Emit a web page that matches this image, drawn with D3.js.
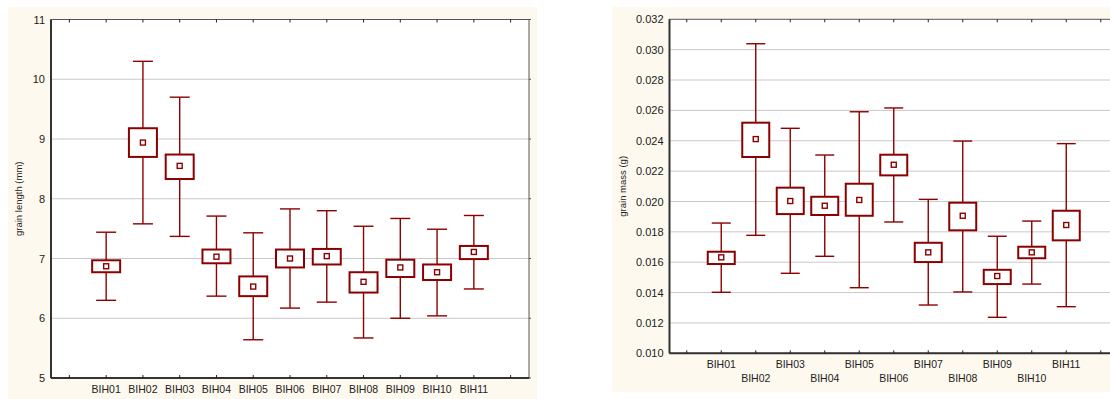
<!doctype html>
<html>
<head>
<meta charset='utf-8'>
<style>
  body { margin: 0; background: #fff; }
  svg { display: block; font-family: 'Liberation Sans', Arial, sans-serif; }
</style>
</head>
<body>
<svg id='chart' width='1110' height='399'></svg>
<script src='https://cdn.jsdelivr.net/npm/d3@7/dist/d3.min.js'></script>
<script>

const groups = ['BIH01','BIH02','BIH03','BIH04','BIH05','BIH06','BIH07','BIH08','BIH09','BIH10','BIH11'];

// grain length (mm): mean, box (lo/hi), whiskers (lo/hi)
const lengthMean   = [6.87, 8.94, 8.55, 7.03, 6.53, 7.00, 7.04, 6.61, 6.85, 6.77, 7.11];
const lengthBoxLo  = [6.77, 8.70, 8.33, 6.92, 6.37, 6.85, 6.90, 6.43, 6.69, 6.64, 6.99];
const lengthBoxHi  = [6.97, 9.18, 8.74, 7.15, 6.70, 7.15, 7.16, 6.77, 6.98, 6.90, 7.21];
const lengthWhLo   = [6.30, 7.58, 7.37, 6.37, 5.64, 6.17, 6.27, 5.67, 6.00, 6.04, 6.49];
const lengthWhHi   = [7.44, 10.30, 9.70, 7.71, 7.43, 7.83, 7.80, 7.54, 7.67, 7.49, 7.72];
const lengthTicks  = [5, 6, 7, 8, 9, 10, 11];

// grain mass (g)
const massMean  = [0.01632, 0.02411, 0.02003, 0.01972, 0.02010, 0.02242, 0.01665, 0.01906, 0.01509, 0.01665, 0.01845];
const massBoxLo = [0.01588, 0.02293, 0.01917, 0.01911, 0.01906, 0.02172, 0.01601, 0.01810, 0.01456, 0.01626, 0.01744];
const massBoxHi = [0.01669, 0.02519, 0.02091, 0.02031, 0.02117, 0.02308, 0.01728, 0.01992, 0.01550, 0.01702, 0.01939];
const massWhLo  = [0.01402, 0.01777, 0.01527, 0.01639, 0.01432, 0.01865, 0.01318, 0.01404, 0.01237, 0.01456, 0.01307];
const massWhHi  = [0.01858, 0.03039, 0.02482, 0.02306, 0.02591, 0.02616, 0.02014, 0.02398, 0.01771, 0.01871, 0.02381];
const massTicks = [0.010, 0.012, 0.014, 0.016, 0.018, 0.020, 0.022, 0.024, 0.026, 0.028, 0.030, 0.032];

const boxColor = '#8b0000';
const svg = d3.select('#chart');

function drawChart(opt) {
  // panel background
  svg.append('rect')
    .attr('x', opt.panel[0]).attr('y', opt.panel[1])
    .attr('width', opt.panel[2]).attr('height', opt.panel[3])
    .attr('fill', '#fdf9ee');

  const g = svg.append('g').attr('transform', `translate(${opt.l}, ${opt.t})`);
  const w = opt.w, h = opt.h;

  g.append('rect').attr('width', w).attr('height', h).attr('fill', '#fff');

  // empty slot at each end
  const slots = ['_a'].concat(groups, ['_b']);
  const x = d3.scaleBand().domain(slots).range([0, w]);
  const y = d3.scaleLinear().domain(opt.yDomain).range([h, 0]);
  const cx = d => x(d) + x.bandwidth() / 2;

  // gridlines
  g.selectAll('.grid')
    .data(opt.ticks.slice(1, -1))
    .enter().append('line')
    .attr('x1', 0).attr('x2', w)
    .attr('y1', d => y(d)).attr('y2', d => y(d))
    .attr('stroke', '#c9c9c9').attr('stroke-width', 1);

  // right side little ticks
  g.selectAll('.rtick')
    .data(opt.ticks)
    .enter().append('line')
    .attr('x1', w).attr('x2', w + 2)
    .attr('y1', d => y(d)).attr('y2', d => y(d))
    .attr('stroke', '#555');

  // frame
  g.append('rect').attr('width', w).attr('height', h)
    .attr('fill', 'none').attr('stroke', '#555').attr('stroke-width', 1);
  g.append('line').attr('x1', 0).attr('x2', 0).attr('y1', 0).attr('y2', h)
    .attr('stroke', '#333').attr('stroke-width', 2);
  g.append('line').attr('x1', 0).attr('x2', w).attr('y1', h).attr('y2', h)
    .attr('stroke', '#333').attr('stroke-width', 2);

  // top & bottom ticks (inward)
  g.selectAll('.tt')
    .data(slots)
    .enter().append('line')
    .attr('x1', d => cx(d)).attr('x2', d => cx(d))
    .attr('y1', 0).attr('y2', 3)
    .attr('stroke', '#222');
  g.selectAll('.bt')
    .data(slots)
    .enter().append('line')
    .attr('x1', d => cx(d)).attr('x2', d => cx(d))
    .attr('y1', h).attr('y2', h - 3)
    .attr('stroke', '#222');

  // y tick labels
  const yAxis = d3.axisLeft(y).tickValues(opt.ticks).tickSize(0).tickPadding(6)
    .tickFormat(opt.fmt);
  g.append('g').call(yAxis)
    .call(s => s.select('.domain').remove())
    .selectAll('text')
    .attr('font-size', '11px').attr('fill', '#222')
    .attr('font-family', "'Liberation Sans', Arial, sans-serif");

  // x tick labels
  g.selectAll('.xl')
    .data(groups)
    .enter().append('text')
    .attr('x', d => cx(d))
    .attr('y', (d, i) => h + (opt.stagger && i % 2 == 1 ? 29 : 15))
    .attr('text-anchor', 'middle')
    .attr('font-size', '10.5px').attr('fill', '#222')
    .text(d => d);

  // y label
  g.append('text')
    .attr('transform', `translate(${opt.labelX}, ${h / 2}) rotate(-90)`)
    .attr('text-anchor', 'middle')
    .attr('font-size', '9.5px').attr('fill', '#222')
    .text(opt.label);

  // boxes
  const nodes = g.selectAll('.node')
    .data(groups)
    .enter().append('g')
    .attr('class', 'node');

  nodes.append('line')
    .attr('x1', d => cx(d)).attr('x2', d => cx(d))
    .attr('y1', (d, i) => y(opt.whLo[i])).attr('y2', (d, i) => y(opt.whHi[i]))
    .attr('stroke', boxColor).attr('stroke-width', 1.4);
  ['whLo', 'whHi'].forEach(k => {
    nodes.append('line')
      .attr('x1', d => cx(d) - opt.cap / 2).attr('x2', d => cx(d) + opt.cap / 2)
      .attr('y1', (d, i) => y(opt[k][i])).attr('y2', (d, i) => y(opt[k][i]))
      .attr('stroke', boxColor).attr('stroke-width', 1.4);
  });
  nodes.append('rect')
    .attr('x', d => cx(d) - opt.boxW / 2)
    .attr('width', opt.boxW)
    .attr('y', (d, i) => y(opt.boxHi[i]))
    .attr('height', (d, i) => y(opt.boxLo[i]) - y(opt.boxHi[i]))
    .attr('fill', '#fff').attr('stroke', boxColor).attr('stroke-width', 2);
  nodes.append('rect')
    .attr('x', d => cx(d) - 2.5)
    .attr('y', (d, i) => y(opt.mean[i]) - 2.5)
    .attr('width', 5).attr('height', 5)
    .attr('fill', '#fff').attr('stroke', boxColor).attr('stroke-width', 1.4);
}

drawChart({
  panel: [8, 7, 529, 392],
  l: 51, t: 19.5, w: 478, h: 358.5,
  yDomain: [5, 11], ticks: lengthTicks, fmt: d3.format('d'),
  mean: lengthMean, boxLo: lengthBoxLo, boxHi: lengthBoxHi, whLo: lengthWhLo, whHi: lengthWhHi,
  boxW: 28, cap: 20, stagger: false,
  label: 'grain length (mm)', labelX: -29
});

drawChart({
  panel: [612, 7, 498, 385],
  l: 669.5, t: 19.3, w: 448.5, h: 334,
  yDomain: [0.010, 0.032], ticks: massTicks, fmt: d3.format('.3f'),
  mean: massMean, boxLo: massBoxLo, boxHi: massBoxHi, whLo: massWhLo, whHi: massWhHi,
  boxW: 27, cap: 19, stagger: true,
  label: 'grain mass (g)', labelX: -44
});

</script>
</body>
</html>
